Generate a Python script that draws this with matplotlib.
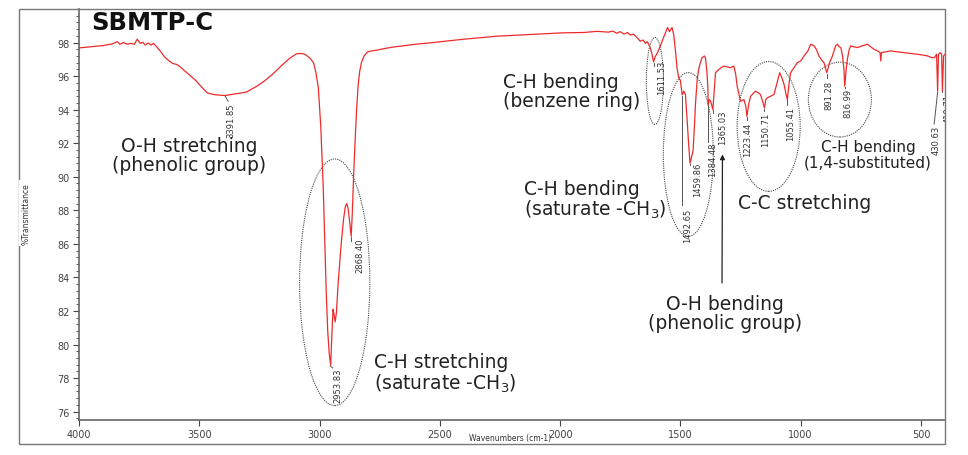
import matplotlib
matplotlib.use('Agg')
import numpy as np
import matplotlib.pyplot as plt
from matplotlib.patches import Ellipse, Rectangle
from matplotlib.ticker import MultipleLocator

# Спектр (волновое число, %T)
wavenumber = [4000, 3950, 3900, 3862, 3840, 3830, 3815, 3800, 3785, 3770, 3758, 3745, 3735, 3725,
              3712, 3700, 3690, 3679, 3660, 3645, 3625, 3610, 3595, 3583, 3560, 3535, 3512, 3490,
              3467, 3440, 3420, 3391.85, 3360, 3330, 3304, 3260, 3230, 3196, 3160, 3125, 3096, 3075,
              3060, 3042, 3025, 3015, 3005, 2995, 2985, 2978, 2972, 2966, 2960, 2953.83, 2949, 2944,
              2940, 2935, 2930, 2922, 2910, 2900, 2893, 2887, 2881, 2875, 2868.40, 2864, 2858, 2852,
              2846, 2840, 2833, 2826, 2815, 2800, 2785, 2760, 2745, 2700, 2600, 2542, 2400, 2262,
              2100, 1987, 1900, 1846, 1800, 1780, 1765, 1750, 1735, 1720, 1708, 1695, 1680, 1667,
              1655, 1645, 1637, 1625, 1618, 1611.53, 1605, 1595, 1583, 1570, 1562, 1553, 1545, 1535,
              1528, 1521, 1514, 1507, 1500, 1492.65, 1486, 1479, 1472, 1466, 1459.86, 1453, 1447, 1441,
              1437, 1430, 1424, 1417, 1410, 1400, 1396, 1390, 1386, 1384.48, 1380, 1374, 1365.03, 1360,
              1354, 1340, 1320, 1305, 1292, 1278, 1270, 1264, 1250, 1236, 1228, 1223.44, 1215, 1208,
              1188, 1175, 1167, 1158, 1150.71, 1145, 1139, 1125, 1111, 1100, 1087, 1078, 1069, 1062,
              1055.41, 1048, 1042, 1028, 1014, 1000, 986, 970, 958, 950, 944, 935, 924, 910, 903,
              891.28, 880, 868, 855, 847, 840, 833, 826, 820, 816.99, 810, 806, 798, 792, 780, 764,
              745, 722, 705, 695, 680, 670, 667, 664, 645, 625, 600, 571, 540, 514, 490, 472, 455,
              444, 435, 430.63, 427, 420, 414, 410.71, 406, 400]
transmittance = [97.68, 97.75, 97.82, 97.92, 98.05, 97.9, 98.0, 97.9, 97.95, 97.9, 98.2, 97.95, 98.02, 97.85,
                 97.97, 97.85, 97.95, 97.78, 97.45, 97.15, 96.9, 96.75, 96.7, 96.6, 96.3, 96.0, 95.7, 95.35,
                 95.0, 94.9, 94.87, 94.84, 94.92, 94.98, 95.05, 95.4, 95.7, 96.1, 96.6, 97.05, 97.33, 97.35,
                 97.3, 97.1, 96.8, 96.2, 95.3, 93.0, 89.5, 86.0, 83.0, 80.8, 79.5, 78.75, 80.5, 82.1,
                 81.8, 81.35, 81.9, 83.8, 86.0, 87.5, 88.2, 88.4, 88.1, 87.3, 86.45, 87.8, 90.2, 92.2,
                 94.0, 95.4, 96.3, 96.8, 97.2, 97.45, 97.5, 97.55, 97.6, 97.72, 97.9, 97.98, 98.2, 98.38,
                 98.5, 98.58, 98.6, 98.67, 98.62, 98.68, 98.55, 98.65, 98.5, 98.6, 98.45, 98.5, 98.3, 98.08,
                 98.15, 97.95, 98.05, 97.68, 97.3, 96.85, 97.15, 97.4, 97.8, 98.3, 98.58, 98.9, 98.65, 98.9,
                 98.5, 97.58, 96.5, 95.9, 95.75, 94.88, 95.1, 94.9, 93.4, 92.0, 90.8, 91.2, 91.6, 93.2,
                 94.4, 95.8, 96.4, 96.8, 97.1, 97.2, 97.1, 96.3, 95.4, 94.3, 94.6, 94.5, 94.0, 95.0,
                 96.2, 96.4, 96.6, 96.55, 96.5, 96.6, 96.1, 95.4, 94.5, 94.6, 94.2, 93.6, 94.4, 94.8,
                 95.1, 95.0, 94.9, 94.5, 94.1, 94.6, 94.7, 94.8, 94.9, 95.5, 96.2, 95.9, 95.5, 95.0,
                 94.6, 95.6, 96.2, 96.5, 96.8, 96.9, 97.2, 97.5, 97.9, 97.85, 97.8, 97.6, 97.2, 96.9, 96.8,
                 96.2, 96.8, 97.2, 97.8, 97.9, 97.75, 97.7, 97.2, 96.4, 95.4, 96.5, 97.0, 97.6, 97.8, 97.75, 97.7,
                 97.8, 97.9, 97.7, 97.6, 97.5, 97.4, 96.9, 97.4, 97.45, 97.5, 97.45, 97.4, 97.35, 97.3, 97.25, 97.2, 97.1,
                 97.1, 97.3, 95.1, 97.3, 97.4, 97.3, 95.1, 97.2, 97.3]

# Подписи пиков
peak_labels = ['3391.85', '2953.83', '2868.40', '1611.53', '1492.65', '1459.86', '1384.48',
               '1365.03', '1223.44', '1150.71', '1055.41', '891.28', '816.99', '430.63', '410.71']
peak_text_x = [3371, 2925, 2833, 1579, 1471, 1429, 1367, 1325, 1221, 1146, 1042, 883, 804, 437, 387]
peak_text_top = [94.45, 78.6, 86.4, 97.0, 88.18, 90.9, 92.1, 94.0, 93.3, 93.9, 94.2, 95.8, 95.3, 93.1, 95.0]
leader_x = [3380, 2945, 2868.4, 1611.53, 1492.65, 1459.86, 1384.48, 1365.03, 1223.44, 1150.71,
            1055.41, 891.28, 816.99, 445, 410.71]
leader_y = [94.5, 78.6, 86.2, 96.6, 88.3, 90.7, 92.1, 93.8, 93.4, 93.9, 94.3, 95.9, 95.3, 93.15, 95.1]

# Группы полос
group_texts = ['O-H stretching\n(phenolic group)', 'C-H stretching\n(saturate -CH$_3$)',
               'C-H bending\n(benzene ring)', 'C-H bending\n(saturate -CH$_3$)', 'C-C stretching',
               'C-H bending\n(1,4-substituted)', 'O-H bending\n(phenolic group)']
group_x = [3542, 2775, 2237, 2150, 983, 720, 1313]
group_y = [91.27, 78.3, 95.14, 88.65, 88.48, 91.33, 81.87]
group_ha = ['center', 'left', 'left', 'left', 'center', 'center', 'center']
group_size = [13.5, 13.5, 13.5, 13.5, 13.5, 11, 13.5]

# Эллипсы: центр (см-1, %T), ширина, высота
ell_x = [2937, 1606, 1467, 1133, 837]
ell_y = [83.71, 95.71, 91.33, 93.0, 94.6]
ell_w = [292, 71, 208, 262, 262]
ell_h = [14.7, 5.18, 9.76, 7.74, 4.46]

W, H = 968, 456
fig = plt.figure(figsize=(W / 100, H / 100), dpi=100)
ax = fig.add_axes([79 / W, 1 - 421 / H, (945 - 79) / W, (421 - 10) / H])

ax.plot(wavenumber, transmittance, color='#ee2b2b', lw=0.9, zorder=3)

ax.set_xlim(4000, 400)
ax.set_ylim(75.5, 100)
ax.set_xticks(np.arange(4000, 400, -500))
ax.set_yticks(np.arange(76, 99, 2))
ax.yaxis.set_minor_locator(MultipleLocator(0.4))
ax.tick_params(axis='both', which='major', labelsize=7, colors='#444', length=4, width=0.8, pad=2.5)
ax.tick_params(axis='y', which='minor', length=2.5, width=0.6, colors='#444')
for s in ['top', 'right']:
    ax.spines[s].set_visible(False)
for s in ['left', 'bottom']:
    ax.spines[s].set_color('#666')
    ax.spines[s].set_linewidth(1.2)

# Внешняя рамка
fig.add_artist(Rectangle((19 / W, 1 - 445 / H), (945 - 19) / W, (445 - 10) / H,
                         transform=fig.transFigure, fill=False, edgecolor='#777', lw=1.0))
fig.text(26 / W, 1 - 214 / H, '%Transmittance', rotation=90, fontsize=5.5, color='#333',
         ha='center', va='center', bbox=dict(facecolor='white', edgecolor='none', pad=1.5))
fig.text(510 / W, 1 - 439 / H, 'Wavenumbers (cm-1)', fontsize=5.5, color='#333',
         ha='center', va='center')

ax.text(3950, 99.25, 'SBMTP-C', fontsize=17.5, fontweight='bold', color='#111', ha='left', va='center')

# Подписи пиков и выноски
for lbl, tx, ty, lx, ly in zip(peak_labels, peak_text_x, peak_text_top, leader_x, leader_y):
    px = float(lbl)
    py = np.interp(px, wavenumber[::-1], transmittance[::-1])
    ax.plot([px, lx], [py - 0.05, ly], color='#555', lw=0.7, zorder=2)
    ax.text(tx, ty, lbl, rotation=90, fontsize=6, color='#333', ha='center', va='top', clip_on=True)

for txt, gx, gy, ha, fs in zip(group_texts, group_x, group_y, group_ha, group_size):
    ax.text(gx, gy, txt, fontsize=fs, color='#222', ha=ha, va='center', linespacing=1.0)

for ex, ey, ew, eh in zip(ell_x, ell_y, ell_w, ell_h):
    ax.add_patch(Ellipse((ex, ey), ew, eh, fill=False, edgecolor='#444', ls=(0, (1, 1)), lw=0.8))

ax.annotate('', xy=(1325, 91.5), xytext=(1327, 83.5),
            arrowprops=dict(arrowstyle='-|>', color='#222', lw=0.9, mutation_scale=7))

fig.savefig('out.png', dpi=100)
